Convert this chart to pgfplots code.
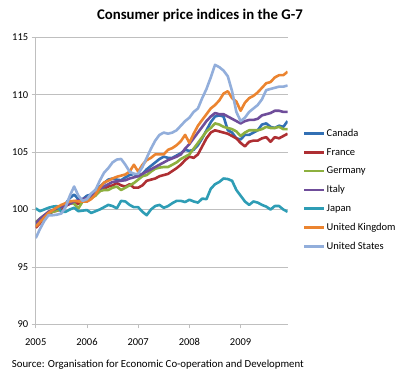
\documentclass[border=0pt]{standalone}
\usepackage{pgfplots}
\pgfplotsset{compat=1.18}
\usepackage{pgfplotstable}
\usepackage{fontspec}
\setmainfont{Carlito}

\definecolor{cCA}{HTML}{3270B4}
\definecolor{cFR}{HTML}{AE2F33}
\definecolor{cDE}{HTML}{8DB03F}
\definecolor{cIT}{HTML}{6F4D9A}
\definecolor{cJP}{HTML}{2E9DB5}
\definecolor{cUK}{HTML}{EB8430}
\definecolor{cUS}{HTML}{92AEDB}
\definecolor{gridc}{HTML}{BFBFBF}

\pgfplotstableread{
m CA FR DE IT JP UK US
0 98.6 98.4 98.9 98.8 100.1 98.5 97.5
1 99.0 98.8 99.2 99.2 99.85 98.9 98.3
2 99.4 99.3 99.5 99.5 100.0 99.3 99.0
3 99.8 99.6 99.7 99.8 100.15 99.7 99.5
4 99.9 99.8 99.8 99.95 100.25 99.95 99.5
5 100.0 99.9 99.9 100.1 100.3 100.2 99.55
6 100.3 100.0 100.2 100.2 99.8 100.4 99.65
7 100.5 100.3 100.4 100.4 99.8 100.55 100.2
8 101.0 100.5 100.6 100.5 100.0 100.7 101.2
9 101.3 100.6 100.5 100.7 100.15 100.75 102.0
10 100.9 100.5 100.1 100.8 99.85 100.7 101.2
11 100.9 100.7 100.7 100.9 99.9 100.7 100.75
12 101.2 100.7 100.8 101.0 99.95 100.7 100.9
13 101.3 101.0 101.0 101.2 99.7 100.9 101.4
14 101.7 101.3 101.2 101.5 99.85 101.3 101.7
15 102.0 101.6 101.6 101.8 100.0 101.9 102.5
16 102.3 101.8 101.7 102.0 100.2 102.35 103.2
17 102.6 102.0 101.7 102.2 100.4 102.5 103.6
18 102.7 102.1 101.9 102.4 100.3 102.7 104.1
19 102.6 102.3 102.0 102.45 100.1 102.85 104.35
20 102.55 102.1 101.7 102.5 100.75 102.95 104.4
21 102.8 102.0 101.9 102.55 100.7 103.05 103.9
22 103.0 102.2 102.1 102.7 100.4 103.3 103.3
23 103.1 101.9 102.3 102.8 100.2 103.9 103.1
24 102.9 101.9 102.6 102.9 100.2 103.3 103.1
25 103.1 102.1 102.9 103.1 99.8 103.9 103.7
26 103.5 102.5 103.0 103.3 99.5 104.3 104.5
27 103.8 102.6 103.3 103.5 100.0 104.5 105.3
28 104.1 102.7 103.55 103.7 100.3 104.8 106.0
29 104.4 102.9 103.65 103.9 100.4 104.8 106.5
30 104.6 103.0 103.7 104.1 100.15 104.8 106.7
31 104.5 103.1 103.7 104.3 100.3 105.2 106.6
32 104.5 103.35 103.9 104.45 100.55 105.35 106.7
33 104.7 103.6 104.1 104.6 100.75 105.6 106.9
34 104.9 103.9 104.4 104.8 100.75 105.95 107.3
35 105.2 104.3 104.6 105.3 100.65 106.5 107.7
36 105.1 104.6 104.8 105.7 100.85 105.8 108.0
37 105.2 104.5 105.3 106.2 100.7 106.6 108.5
38 105.6 104.8 105.8 106.7 100.6 107.3 108.8
39 106.2 105.5 106.3 107.2 100.95 107.8 109.7
40 106.9 106.2 106.8 107.7 100.9 108.3 110.5
41 107.6 106.7 107.1 108.1 101.8 108.8 111.5
42 108.1 106.9 107.5 108.4 102.2 109.1 112.6
43 108.2 106.8 107.4 108.3 102.4 109.5 112.4
44 108.1 106.7 107.2 108.3 102.7 110.1 112.1
45 106.9 106.6 107.1 108.1 102.65 110.3 111.6
46 106.7 106.4 107.0 107.9 102.5 109.7 110.3
47 106.2 106.2 106.8 107.7 101.7 109.4 108.5
48 106.1 105.8 106.4 107.5 101.2 108.6 107.7
49 106.5 105.5 106.7 107.7 100.7 109.3 108.0
50 106.5 105.9 106.9 107.8 100.4 109.7 108.5
51 106.7 106.0 106.9 107.8 100.7 109.9 108.8
52 106.9 106.0 106.9 107.9 100.6 110.2 109.1
53 107.4 106.2 107.0 108.2 100.4 110.6 109.6
54 107.5 106.3 107.2 108.3 100.25 111.0 110.4
55 107.2 105.9 107.1 108.4 100.0 111.1 110.5
56 107.1 106.3 107.1 108.6 100.3 111.5 110.6
57 107.3 106.2 107.2 108.6 100.3 111.7 110.7
58 107.2 106.4 107.0 108.5 100.0 111.7 110.7
59 107.7 106.6 107.0 108.5 99.8 112.0 110.8
}\cpi

\begin{document}
\begin{tikzpicture}[x=1pt,y=1pt]
\useasboundingbox (0,0) rectangle (400,390);
\node[font=\bfseries\fontsize{14.8}{17}\selectfont, anchor=base, inner sep=0pt] at (200,370) {Consumer price indices in the G-7};
\node[font=\fontsize{10.8}{12}\selectfont, anchor=base west, inner sep=0pt] at (11.7,22) {Source: Organisation for Economic Co-operation and Development};
\begin{axis}[
  at={(35.7pt,65.7pt)}, anchor=south west,
  scale only axis, width=251.9pt, height=287pt,
  xmin=0, xmax=59, ymin=90, ymax=115,
  ytick={90,95,...,115},
  xtick={0,12,24,36,48},
  xticklabels={2005,2006,2007,2008,2009},
  axis x line*=bottom, axis y line*=left,
  axis line style={-, draw=gridc, line width=0.7pt},
  ymajorgrids, grid style={draw=gridc, line width=0.7pt},
  tick style={draw=gridc, line width=0.7pt},
  tick align=outside, major tick length=4pt,
  ticklabel style={font=\fontsize{10.5}{12}\selectfont},
  /pgf/number format/assume math mode=true,
  xticklabel style={yshift=-7pt},
  legend style={at={(1.049,0.691)}, anchor=north west, draw=none, fill=none,
    font=\fontsize{10.5}{12}\selectfont, row sep=8.3pt,
    nodes={inner sep=1pt}},
  legend cell align=left,
  legend image code/.code={\draw[#1, line width=2.6pt] (0pt,0pt) -- (20pt,0pt);},
  every axis plot/.append style={line width=2.6pt, line join=round, mark=none},
]
\addplot[cCA] table[x=m,y=CA] {\cpi}; \addlegendentry{Canada}
\addplot[cFR] table[x=m,y=FR] {\cpi}; \addlegendentry{France}
\addplot[cDE] table[x=m,y=DE] {\cpi}; \addlegendentry{Germany}
\addplot[cIT] table[x=m,y=IT] {\cpi}; \addlegendentry{Italy}
\addplot[cJP] table[x=m,y=JP] {\cpi}; \addlegendentry{Japan}
\addplot[cUK] table[x=m,y=UK] {\cpi}; \addlegendentry{United Kingdom}
\addplot[cUS] table[x=m,y=US] {\cpi}; \addlegendentry{United States}
\end{axis}
\end{tikzpicture}
\end{document}
